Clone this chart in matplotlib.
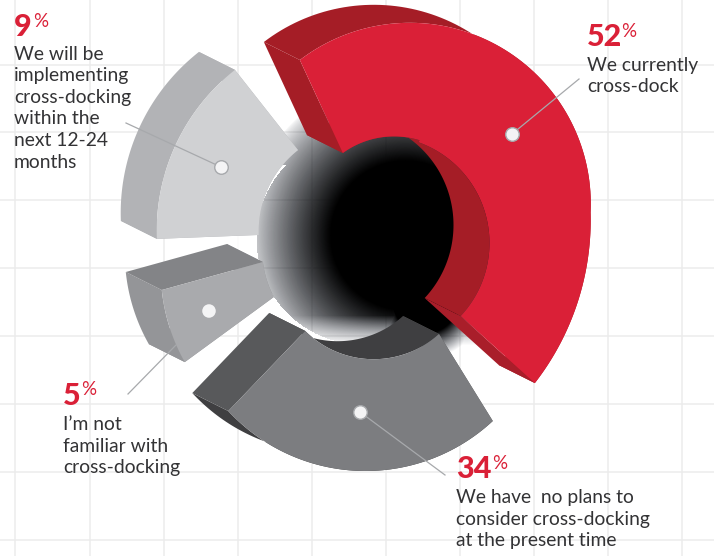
import numpy as np
import matplotlib
matplotlib.use('Agg')
import matplotlib.pyplot as plt

plt.rcParams['font.family'] = ['Lato', 'DejaVu Sans']

shares = [52, 34, 5, 9]
answers = [
    ['We currently', 'cross-dock'],
    ['We have  no plans to', 'consider cross-docking', 'at the present time'],
    ['I\u2019m not', 'familiar with', 'cross-docking'],
    ['We will be', 'implementing', 'cross-docking', 'within the', 'next 12-24', 'months'],
]

# the ring is drawn in perspective, so every slice has its own circles:
# (centre x, centre y, radius, start angle, degrees per percentage point)
outer_arcs = [
    [(409.8, 203.8, 181, 127.4, -2.5), (324.7, 220, 266, 1.7, -0.76)],
    [(365.5, 284, 187, -47.1, -2.65)],
    [(345.8, 271, 185, 209.5, -4.72)],
    [(361.7, 231, 205, 182.2, -6.0)],
]
inner_arcs = [
    [(394, 223.4, 87, 126, -1.02), (382.5, 243, 107, 70.3, -2.18)],
    [(373.7, 262, 97.2, -47.8, -2.56)],
    [(362.2, 250, 100, 208, -4.22)],
    [(361.7, 231, 103, 182.2, -6.0)],
]
depth = (-36, -18)

front_colors = ['#da2037', '#7c7d80', '#a9aaad', '#d0d1d3']
rim_colors = ['#a51d26', '#3f3f41', '#949598', '#b2b3b6']
start_colors = ['#a51d26', '#58595b', '#949598', '#b2b3b6']
end_colors = ['#a91e2a', '#58595b', '#838487', '#b2b3b6']
hole_colors = ['#a51d26', '#3f3f41', '#949598', '#b2b3b6']

dots = [(512, 134), (360, 412), (209, 311), (221, 167)]
leader_ends = [((512, 134), (579, 79)), ((360, 412), (445, 475)),
               ((176, 345), (128, 394)), ((221, 167), (126, 123))]
number_pos = [(587, 46), (456, 478), (63, 405), (14, 36)]
percent_pos = [(621, 37), (492, 469), (81, 395), (33, 27)]
text_pos = [(587, 71), (456, 503), (63, 430), (14, 60)]

grid_x = [15, 90, 164, 238, 312, 386, 460, 534, 608, 682]
grid_y = [65, 132, 200, 268, 336, 404, 472, 540]


def trace(arcs, share):
    pts = []
    for cx, cy, r, start, rate in arcs:
        a = np.radians(np.linspace(start, start + share * rate, 80))
        pts.append(np.column_stack([cx + r * np.cos(a), cy - r * np.sin(a)]))
    return np.vstack(pts)


fig = plt.figure(figsize=(7.14, 5.56), dpi=100)
ax = fig.add_axes([0, 0, 1, 1])

for x in grid_x:
    ax.axvline(x, color='#ececec', lw=1.1, zorder=1)
for y in grid_y:
    ax.axhline(y, color='#ececec', lw=1.1, zorder=1)

# soft black centre, cut by a disc on the left, with a white glow outside the disc
yy, xx = np.mgrid[0:556, 0:714]
disc = np.hypot(xx - 362, yy - 238)
glow = np.zeros((556, 714, 4))
glow[..., :3] = 1
glow[..., 3] = np.clip((disc - 105) / 2, 0, 1) * np.clip((150 - disc) / 30, 0, 1)
glow[(yy < 165) | (xx > 400), 3] = 0
ax.imshow(glow, extent=(0, 714, 556, 0), zorder=2, aspect='auto')
fade = np.clip((160 - np.hypot(xx - 405, yy - 235)) / 85, 0, 1) ** 0.7
fade = fade * np.clip((345 - yy) / 30, 0, 1)
fade = np.maximum(fade, np.clip((58 - np.hypot(xx - 425, yy - 300)) / 25, 0, 1))
keep = (disc < 106) | (yy < 165) | (xx > 400)
fade = np.where(keep, fade, 0)
dark = np.zeros((556, 714, 4))
dark[..., :3] = np.array([0.05, 0.08, 0.14]) * (1 - fade[..., None])
dark[..., 3] = fade
ax.imshow(dark, extent=(0, 714, 556, 0), zorder=3, aspect='auto')
ax.set_xlim(0, 714)
ax.set_ylim(556, 0)
ax.axis('off')

for i, share in enumerate(shares):
    outer = trace(outer_arcs[i], share)
    inner = trace(inner_arcs[i], share)
    back_outer = outer + depth
    back_inner = inner + depth
    ax.fill(*np.vstack([outer, back_outer[::-1]]).T, color=rim_colors[i], lw=0, zorder=4)
    ax.fill(*np.array([outer[0], inner[0], back_inner[0], back_outer[0]]).T,
            color=start_colors[i], lw=0, zorder=4)
    ax.fill(*np.vstack([inner, back_inner[::-1]]).T, color=hole_colors[i], lw=0, zorder=4)
    ax.fill(*np.array([outer[-1], inner[-1], back_inner[-1], back_outer[-1]]).T,
            color=end_colors[i], lw=0, zorder=4)
    ax.fill(*np.vstack([outer, inner[::-1]]).T, color=front_colors[i], lw=0, zorder=5)

for (x0, y0), (x1, y1) in leader_ends:
    ax.plot([x0, x1], [y0, y1], color='#a7a9ac', lw=0.9, zorder=6)
for i, (x, y) in enumerate(dots):
    edge = 'none' if i == 2 else '#a7a9ac'
    ax.scatter(x, y, s=95, color='#f4f4f5', edgecolors=edge, linewidths=1, zorder=7)

red = '#da2037'
for i, share in enumerate(shares):
    ax.text(*number_pos[i], str(share), color=red, fontsize=22, fontweight='black',
            va='baseline', ha='left', zorder=8)
    ax.text(*percent_pos[i], '%', color=red, fontsize=13.5, va='baseline', ha='left', zorder=8)
    x, y = text_pos[i]
    for j, line in enumerate(answers[i]):
        ax.text(x, y + j * 21.5, line, color='#333335', fontsize=13.9, va='baseline',
                ha='left', zorder=8)

fig.savefig('out.png', dpi=100, facecolor='white')
